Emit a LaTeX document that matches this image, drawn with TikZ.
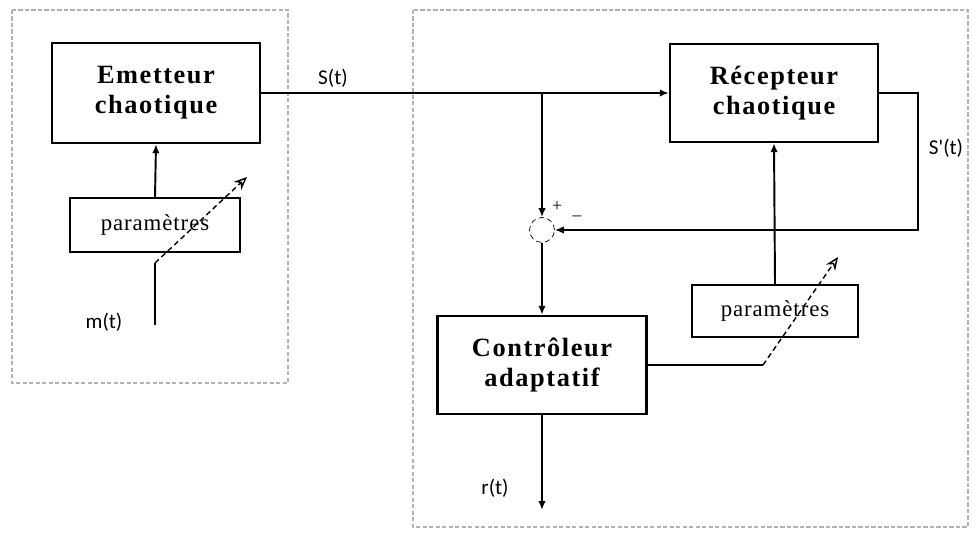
\documentclass[tikz,border=0pt]{standalone}
\usepackage{fontspec}
\setmainfont{Liberation Serif}
\newfontfamily\lblfont{Carlito}
\usetikzlibrary{positioning, arrows.meta, calc}

\begin{document}
\begin{tikzpicture}[x=0.02cm, y=-0.02cm,
  bloc/.style={rectangle, draw, line width=1.4pt, align=center, inner sep=2pt,
               font=\fontsize{15}{17}\selectfont\bfseries\addfontfeatures{LetterSpace=6}},
  parb/.style={rectangle, draw, line width=1.2pt, align=center, inner sep=2pt,
               font=\fontsize{13}{15}\selectfont\addfontfeatures{LetterSpace=4}},
  sumc/.style={circle, draw, densely dashed, thin, minimum size=0.5cm, inner sep=0pt},
  zone/.style={draw=gray!60, line width=0.8pt, dash pattern=on 2.5pt off 1.2pt},
  fl/.style={-{Latex[length=1.8mm, width=1.5mm]}, line width=1.1pt},
  ln/.style={line width=1.1pt},
  ad/.style={-{Stealth[length=2.6mm, width=2.2mm, open]}, densely dashed, line width=0.8pt},
  lbl/.style={font=\lblfont\fontsize{12}{14}\selectfont}]
\useasboundingbox (0,0) rectangle (976,533);
% --- zones ---
\draw[zone] (12,10) rectangle (288,383);
\draw[zone] (413,10) rectangle (968,527);
% --- emetteur side ---
\node[bloc, minimum width=4.16cm, minimum height=2cm] (E) at (156,93) {Emetteur\\chaotique};
\node[parb, minimum width=3.4cm, minimum height=1.08cm] (P1) at (155,225) {paramètres};
\coordinate (mbot) at (155,325);
\coordinate (mtop) at (155,263);
\coordinate (mtip) at (247,177);
\node[lbl] (m) at (104,322) {m(t)};
% --- recepteur side ---
\node[bloc, minimum width=4.16cm, minimum height=1.96cm] (R) at (774,93) {Récepteur\\chaotique};
\node[parb, minimum width=3.32cm, minimum height=1.04cm] (P2) at (775,311) {paramètres};
\node[sumc] (sum) at (542,230) {};
\node[bloc, minimum width=4.18cm, minimum height=1.96cm] (C) at (542,365) {Contrôleur\\adaptatif};
\coordinate (br) at (sum |- E.east);
\coordinate (rt) at (918,93);
\coordinate (kn) at (763,365);
\coordinate (ktip) at (838,257);
\coordinate (rout) at (542,510);
% labels
\node[lbl] (s) at (333,78) {S(t)};
\node[lbl] (sp) at (946,148) {S'(t)};
\node[lbl] (r) at (495,488) {r(t)};
\node (plus) at (557,207) {+};
\node (minus) at (577,218) {--};
% arrows
\draw[fl] (E.east) -- (R.west);
\draw[fl] (br) -- (sum.north);
\draw[fl] (sum.south) -- (C.north);
\draw[fl] (R.east) -- (rt) |- (sum.east);
\draw[fl] (P2.north) -- (R.south);
\draw[fl] (P1.north) -- (E.south);
\draw[ln] (mbot) -- (mtop);
\draw[ad] (mtop) -- (mtip);
\draw[ln] (C.east) -- (kn);
\draw[ad] (kn) -- (ktip);
\draw[fl] (C.south) -- (rout);
\end{tikzpicture}
\end{document}
